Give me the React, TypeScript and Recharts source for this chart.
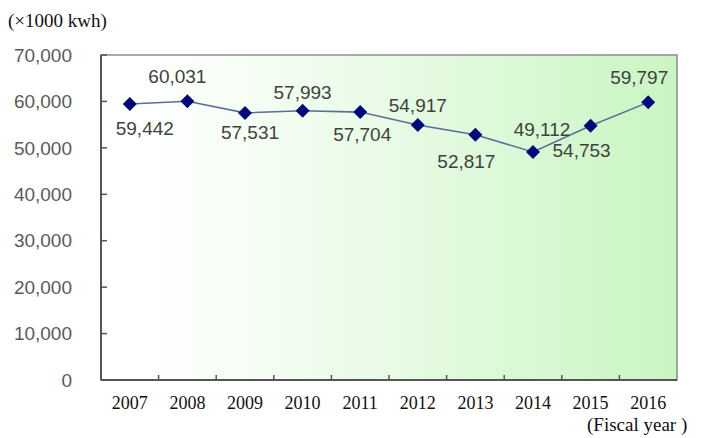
import React from "react";
import {
  LineChart,
  Line,
  XAxis,
  YAxis,
  ReferenceArea,
  LabelList,
} from "recharts";

// Annual electricity use, in thousands of kWh
const years = ["2007", "2008", "2009", "2010", "2011", "2012", "2013", "2014", "2015", "2016"];
const usage = [59442, 60031, 57531, 57993, 57704, 54917, 52817, 49112, 54753, 59797];
const yTicks = [0, 10000, 20000, 30000, 40000, 50000, 60000, 70000];

// where each value label sits relative to its marker
const labelShift: [number, number][] = [
  [15, 26],
  [-10, -23],
  [5, 21],
  [0, -17],
  [2, 24],
  [0, -18],
  [-9, 28],
  [9, -21],
  [-9, 26],
  [-9, -23],
];

const data = years.map((year, i) => ({ year, usage: usage[i] }));

const W = 713;
const H = 438;
const LEFT = 101;
const RIGHT = 36;
const TOP = 55;
const HALF_BAND = (W - LEFT - RIGHT) / years.length / 2;

const fmt = (v: number) => v.toLocaleString("en-US");

function Diamond(props: any) {
  const { cx, cy } = props;
  if (cx == null || cy == null) return null;
  const r = 7;
  return (
    <polygon
      points={`${cx},${cy - r} ${cx + r},${cy} ${cx},${cy + r} ${cx - r},${cy}`}
      fill="#000a7d"
    />
  );
}

function YearTick(props: any) {
  const { x, y, payload, index } = props;
  return (
    <g>
      {index < years.length - 1 && (
        <line x1={x + HALF_BAND} x2={x + HALF_BAND} y1={y} y2={y - 5} stroke="#555" strokeWidth={1.5} />
      )}
      <text
        x={x}
        y={y + 29}
        textAnchor="middle"
        fontFamily="'Liberation Serif', serif"
        fontSize={18}
        fill="#111"
      >
        {payload.value}
      </text>
    </g>
  );
}

function ValueLabel(props: any) {
  const { x, y, value, index } = props;
  const [dx, dy] = labelShift[index] ?? [0, -20];
  return (
    <text
      x={x + dx}
      y={y + dy}
      textAnchor="middle"
      dominantBaseline="middle"
      fontFamily="'Liberation Sans', Arial, sans-serif"
      fontSize={19}
      fill="#3d423d"
    >
      {fmt(value)}
    </text>
  );
}

export default function App() {
  return (
    <div style={{ position: "absolute", left: 0, top: 0, width: W, height: H, background: "#fff" }}>
      <LineChart width={W} height={H} data={data} margin={{ top: TOP, right: RIGHT, bottom: 0, left: 0 }}>
        <defs>
          <linearGradient id="plotBg" x1="0" y1="0" x2="1" y2="0">
            <stop offset="0" stopColor="#ffffff" />
            <stop offset="0.08" stopColor="#ffffff" />
            <stop offset="0.5" stopColor="#e8fbe5" />
            <stop offset="1" stopColor="#c9f5c2" />
          </linearGradient>
        </defs>
        {/* plot background, framed in light grey */}
        <ReferenceArea
          y1={0}
          y2={70000}
          ifOverflow="visible"
          fill="url(#plotBg)"
          fillOpacity={1}
          stroke="#8f8f8f"
          strokeWidth={1.6}
        />
        <XAxis
          dataKey="year"
          scale="band"
          height={58}
          axisLine={{ stroke: "#555", strokeWidth: 2 }}
          tickLine={false}
          tickSize={0}
          tickMargin={0}
          tick={<YearTick />}
          interval={0}
        />
        <YAxis
          width={LEFT}
          domain={[0, 70000]}
          ticks={yTicks}
          tickFormatter={fmt}
          axisLine={{ stroke: "#555", strokeWidth: 2 }}
          tickLine={{ stroke: "#555", strokeWidth: 1.5 }}
          tickSize={-6}
          tickMargin={35}
          tick={{ fill: "#5a5a5a", fontSize: 19, fontFamily: "'Liberation Sans', Arial, sans-serif" }}
        />
        <Line
          dataKey="usage"
          stroke="#5b6e9a"
          strokeWidth={1.6}
          dot={<Diamond />}
          activeDot={false}
          isAnimationActive={false}
        >
          <LabelList dataKey="usage" content={<ValueLabel />} />
        </Line>
      </LineChart>
      <div
        style={{
          position: "absolute",
          left: 8,
          top: 10,
          fontFamily: "'Liberation Serif', serif",
          fontSize: 19,
          color: "#111",
          whiteSpace: "nowrap",
        }}
      >
        (×1000 kwh)
      </div>
      <div
        style={{
          position: "absolute",
          left: 587,
          top: 414,
          fontFamily: "'Liberation Serif', serif",
          fontSize: 19,
          color: "#111",
          whiteSpace: "nowrap",
        }}
      >
        (Fiscal year )
      </div>
    </div>
  );
}
